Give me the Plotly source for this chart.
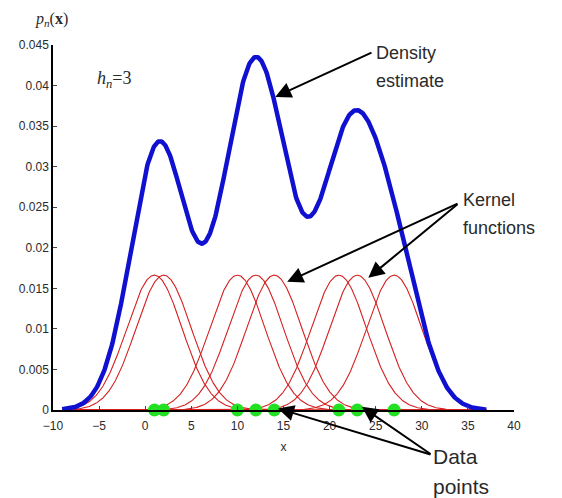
import numpy as np
import plotly.graph_objects as go

# Data
data_points = [1.0, 2.0, 10.0, 12.0, 14.0, 21.0, 23.0, 27.0]
bandwidth = 3.0
x_ticks = [-10, -5, 0, 5, 10, 15, 20, 25, 30, 35, 40]
y_ticks = [0, 0.005, 0.01, 0.015, 0.02, 0.025, 0.03, 0.035, 0.04, 0.045]
y_tick_labels = ["0", "0.005", "0.01", "0.015", "0.02", "0.025", "0.03", "0.035", "0.04", "0.045"]

grid = np.linspace(-9, 37, 600)
n = len(data_points)


def kernel(xc):
    return np.exp(-0.5 * ((grid - xc) / bandwidth) ** 2) / (bandwidth * np.sqrt(2 * np.pi)) / n


fig = go.Figure()
total = np.zeros_like(grid)
for xc in data_points:
    k = kernel(xc)
    total += k
    fig.add_trace(go.Scatter(x=grid, y=k, mode="lines",
                             line=dict(color="#d42020", width=1.1), hoverinfo="skip"))

fig.add_trace(go.Scatter(x=grid, y=total, mode="lines",
                         line=dict(color="#1010d0", width=4.5)))
fig.add_trace(go.Scatter(x=data_points, y=[0] * n, mode="markers",
                         marker=dict(color="#22e022", size=13), cliponaxis=False))

# page has an 8px body margin; work in page pixels and convert
OFF = 8
W, H = 562 - OFF, 498 - OFF
PL, PR, PT, PB = 53, 514, 45, 410  # plot area in page pixels
L, T = PL - OFF, PT - OFF
R = W - (PR - OFF)
B = H - (PB - OFF)
pw, ph = PR - PL, PB - PT


def paper(xp, yp):
    return (xp - PL) / pw, 1 - (yp - PT) / ph


def px(xv, yv):
    return PL + (xv + 10) / 50 * pw, PT + (1 - yv / 0.045) * ph


txt = "#2a2a2a"
ann = []


def arrow(hx, hy, tx, ty):
    hpx, hpy = px(hx, hy)
    ann.append(dict(x=hx, y=hy, xref="x", yref="y", axref="pixel", ayref="pixel",
                    ax=tx - hpx, ay=ty - hpy, text="",
                    showarrow=True, arrowhead=2, arrowsize=1.6, arrowwidth=2, arrowcolor="black"))


def label(xp, yp, text, size, family="Liberation Sans, Arial"):
    x, y = paper(xp, yp)
    ann.append(dict(x=x, y=y, xref="paper", yref="paper", text=text,
                    showarrow=False, xanchor="left", yanchor="middle", align="left",
                    font=dict(family=family, size=size, color=txt)))


arrow(14.1, 0.0386, 373, 52)
label(374, 53, "Density", 18)
label(374, 81, "estimate", 18)
arrow(15.4, 0.0158, 459, 203)
arrow(24.2, 0.0163, 459, 203)
label(461, 200, "Kernel", 18)
label(461, 228, "functions", 18)
arrow(14.4, 0.0002, 432, 455)
arrow(23.5, 0.0004, 432, 455)
label(431, 456, "Data", 21)
label(431, 487, "points", 21)
label(95, 79, "<i>h<sub>n</sub></i>=3", 18, "Liberation Serif, Times New Roman")
label(33, 20, "<i>p<sub>n</sub></i>(<b>x</b>)", 16, "Liberation Serif, Times New Roman")

tick_font = dict(family="Liberation Sans, Arial", size=12, color=txt)
fig.update_layout(
    annotations=ann,
    width=W, height=H,
    margin=dict(l=L, r=R, t=T, b=B),
    paper_bgcolor="white", plot_bgcolor="white",
    showlegend=False,
    xaxis=dict(range=[-10, 40], tickvals=x_ticks, ticks="inside", ticklen=4,
               ticklabelstandoff=4, automargin=False,
               showline=True, linecolor="black", linewidth=1.5, showgrid=False, zeroline=False,
               tickfont=tick_font,
               title=dict(text="x", font=dict(family="Liberation Sans, Arial", size=12, color=txt), standoff=10)),
    yaxis=dict(range=[0, 0.045], tickvals=y_ticks, ticktext=y_tick_labels, ticks="inside", ticklen=4,
               automargin=False,
               showline=True, linecolor="black", linewidth=1.5, showgrid=False, zeroline=False,
               tickfont=tick_font),
)

fig.write_html("out.html")
